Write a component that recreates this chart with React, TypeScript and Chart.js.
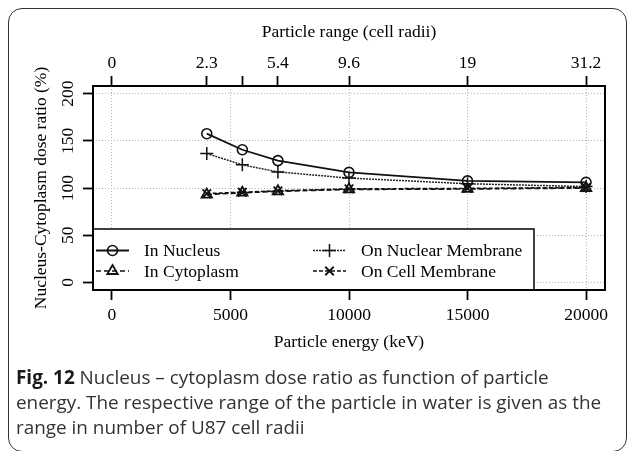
import React, { useEffect, useRef } from 'react';
import { Chart, registerables } from 'chart.js';

Chart.register(...registerables);

// ---- data ----
const energies = [4000, 5500, 7000, 10000, 15000, 20000];
const inNucleus = [157.5, 140.5, 129, 116.5, 107.5, 106];
const inCytoplasm = [93, 95, 96.5, 98.5, 99, 100];
const onNuclearMembrane = [136.5, 124.5, 117, 110.5, 104.5, 101.5];
const onCellMembrane = [94, 95.5, 97, 99, 99.5, 100.5];
const seriesLabels = ['In Nucleus', 'In Cytoplasm', 'On Nuclear Membrane', 'On Cell Membrane'];

const energyTicks = [0, 5000, 10000, 15000, 20000];
const ratioTicks = [0, 50, 100, 150, 200];
const rangeTickEnergies = [0, 4000, 5500, 7000, 10000, 15000, 20000];
const rangeTickLabels = ['0', '2.3', '', '5.4', '9.6', '19', '31.2'];

const SERIF = "'Liberation Serif', 'Times New Roman', serif";

function toPoints(ys: number[]) {
  return energies.map((x, i) => ({ x, y: ys[i] }));
}

function drawSymbol(ctx: CanvasRenderingContext2D, style: string, x: number, y: number, r: number) {
  ctx.beginPath();
  if (style === 'circle') {
    ctx.arc(x, y, r, 0, Math.PI * 2);
  } else if (style === 'triangle') {
    const s = Math.sin(Math.PI / 3) * r;
    const c = Math.cos(Math.PI / 3) * r;
    ctx.moveTo(x, y - r);
    ctx.lineTo(x + s, y + c);
    ctx.lineTo(x - s, y + c);
    ctx.closePath();
  } else if (style === 'cross') {
    ctx.moveTo(x - r, y);
    ctx.lineTo(x + r, y);
    ctx.moveTo(x, y - r);
    ctx.lineTo(x, y + r);
  } else if (style === 'crossRot') {
    const d = r * Math.SQRT1_2;
    ctx.moveTo(x - d, y - d);
    ctx.lineTo(x + d, y + d);
    ctx.moveTo(x - d, y + d);
    ctx.lineTo(x + d, y - d);
  }
  ctx.stroke();
}

const rLegendPlugin = {
  id: 'rLegend',
  afterDatasetsDraw(chart: any) {
    const { ctx, chartArea } = chart;
    const w = 441;
    const h = 61;
    const left = chartArea.left;
    const top = chartArea.bottom - h;
    ctx.save();
    ctx.fillStyle = '#fff';
    ctx.fillRect(left, top, w, h);
    ctx.strokeStyle = '#000';
    ctx.lineWidth = 1.5;
    ctx.strokeRect(left, top, w, h);
    const colX = [left + 3, left + 220];
    const rowY = [top + 21.5, top + 42];
    chart.data.datasets.forEach((ds: any, i: number) => {
      const col = Math.floor(i / 2);
      const row = i % 2;
      const x0 = colX[col];
      const y = rowY[row];
      ctx.strokeStyle = ds.borderColor;
      ctx.lineWidth = ds.borderWidth;
      ctx.setLineDash(ds.borderDash || []);
      ctx.beginPath();
      ctx.moveTo(x0, y);
      ctx.lineTo(x0 + 33, y);
      ctx.stroke();
      ctx.setLineDash([]);
      ctx.lineWidth = ds.pointBorderWidth;
      ctx.strokeStyle = ds.pointBorderColor;
      drawSymbol(ctx, ds.pointStyle, x0 + 16.5, y, ds.pointRadius);
      ctx.fillStyle = '#000';
      ctx.font = `17.5px ${SERIF}`;
      ctx.textAlign = 'left';
      ctx.textBaseline = 'middle';
      ctx.fillText(ds.label, x0 + 48, y + 1);
    });
    ctx.restore();
  },
  afterDraw(chart: any) {
    const { ctx, chartArea } = chart;
    ctx.save();
    ctx.strokeStyle = '#000';
    ctx.lineWidth = 2;
    ctx.strokeRect(chartArea.left, chartArea.top, chartArea.right - chartArea.left, chartArea.bottom - chartArea.top);
    ctx.restore();
  },
};

export default function App() {
  const canvasRef = useRef<HTMLCanvasElement | null>(null);

  useEffect(() => {
    if (!canvasRef.current) return;
    const tickFont = { family: SERIF, size: 17.5 };
    const titleFont = { family: SERIF, size: 17.5 };
    const chart = new Chart(canvasRef.current, {
      type: 'line',
      data: {
        datasets: [
          {
            label: seriesLabels[0],
            data: toPoints(inNucleus),
            borderColor: '#111',
            borderWidth: 1.8,
            borderDash: [],
            pointStyle: 'circle',
            pointRadius: 5,
            pointBorderWidth: 1.6,
            pointBorderColor: '#111',
            pointBackgroundColor: 'rgba(0,0,0,0)',
            fill: false,
            tension: 0,
          },
          {
            label: seriesLabels[1],
            data: toPoints(inCytoplasm),
            borderColor: '#111',
            borderWidth: 1.7,
            borderDash: [5, 3],
            pointStyle: 'triangle',
            pointRadius: 6,
            pointBorderWidth: 1.8,
            pointBorderColor: '#111',
            pointBackgroundColor: 'rgba(0,0,0,0)',
            fill: false,
            tension: 0,
          },
          {
            label: seriesLabels[2],
            data: toPoints(onNuclearMembrane),
            borderColor: '#222',
            borderWidth: 1.5,
            borderDash: [2, 1],
            pointStyle: 'cross',
            pointRadius: 6.5,
            pointBorderWidth: 1.5,
            pointBorderColor: '#111',
            pointBackgroundColor: 'rgba(0,0,0,0)',
            fill: false,
            tension: 0,
          },
          {
            label: seriesLabels[3],
            data: toPoints(onCellMembrane),
            borderColor: '#111',
            borderWidth: 1.7,
            borderDash: [4, 2],
            pointStyle: 'crossRot',
            pointRadius: 6,
            pointBorderWidth: 1.8,
            pointBorderColor: '#111',
            pointBackgroundColor: 'rgba(0,0,0,0)',
            fill: false,
            tension: 0,
          },
        ],
      },
      options: {
        responsive: false,
        animation: false,
        devicePixelRatio: 1,
        layout: { padding: { left: 0, right: 22, top: 0, bottom: 0 } },
        plugins: { legend: { display: false }, tooltip: { enabled: false } },
        scales: {
          x: {
            type: 'linear',
            position: 'bottom',
            min: -800,
            max: 20800,
            afterBuildTicks: (s: any) => {
              s.ticks = energyTicks.map((v) => ({ value: v }));
            },
            afterFit: (s: any) => {
              s.height = 161;
            },
            ticks: {
              font: tickFont,
              color: '#000',
              padding: 5,
              maxRotation: 0,
              autoSkip: false,
              callback: (v: any) => String(v),
            },
            grid: {
              color: '#b4b4b4',
              lineWidth: 1,
              drawTicks: true,
              tickLength: 10,
              tickColor: '#000',
              tickWidth: 1.8,
            },
            border: { display: false, dash: [1, 2] },
            title: {
              display: true,
              text: 'Particle energy (keV)',
              font: titleFont,
              color: '#000',
              padding: { top: 0, bottom: 98.5 },
            },
          },
          x2: {
            type: 'linear',
            position: 'top',
            min: -800,
            max: 20800,
            afterBuildTicks: (s: any) => {
              s.ticks = rangeTickEnergies.map((v) => ({ value: v }));
            },
            afterFit: (s: any) => {
              s.height = 86;
            },
            ticks: {
              font: tickFont,
              color: '#000',
              padding: 2.5,
              maxRotation: 0,
              autoSkip: false,
              callback: (_v: any, i: number) => rangeTickLabels[i],
            },
            grid: {
              drawOnChartArea: false,
              drawTicks: true,
              tickLength: 10,
              tickColor: '#000',
              tickWidth: 1.8,
            },
            border: { display: false },
            title: {
              display: true,
              text: 'Particle range (cell radii)',
              font: titleFont,
              color: '#000',
              padding: { top: 22, bottom: 0 },
            },
          },
          y: {
            type: 'linear',
            position: 'left',
            min: -8,
            max: 208,
            afterBuildTicks: (s: any) => {
              s.ticks = ratioTicks.map((v) => ({ value: v }));
            },
            afterFit: (s: any) => {
              s.width = 93;
            },
            ticks: {
              font: tickFont,
              color: '#000',
              padding: 1,
              minRotation: 90,
              maxRotation: 90,
              crossAlign: 'center',
              autoSkip: false,
              callback: (v: any) => String(v),
            },
            grid: {
              color: '#b4b4b4',
              lineWidth: 1,
              drawTicks: true,
              tickLength: 10,
              tickColor: '#000',
              tickWidth: 1.8,
            },
            border: { display: false, dash: [1, 2] },
            title: {
              display: true,
              text: 'Nucleus-Cytoplasm dose ratio (%)',
              font: titleFont,
              color: '#000',
              padding: { top: 30.5, bottom: 0 },
            },
          },
        },
      },
      plugins: [rLegendPlugin],
    } as any);
    return () => chart.destroy();
  }, []);

  return (
    <div
      style={{
        position: 'absolute',
        left: 0,
        top: 0,
        width: 627,
        height: 451,
        overflow: 'hidden',
        background: '#fff',
      }}
    >
      <canvas ref={canvasRef} width={627} height={451} style={{ display: 'block' }} />
      <div
        style={{
          position: 'absolute',
          left: 8,
          top: 8,
          width: 619,
          height: 444,
          boxSizing: 'border-box',
          border: '1.5px solid #333',
          borderRadius: 14,
          pointerEvents: 'none',
        }}
      />
      <div
        style={{
          position: 'absolute',
          left: 16,
          top: 365,
          fontFamily: "'Open Sans', 'Noto Sans', sans-serif",
          fontSize: 18.9,
          lineHeight: '25px',
          color: '#333',
          whiteSpace: 'nowrap',
        }}
      >
        <span style={{ fontWeight: 700, color: '#1a1a1a' }}>Fig. 12</span> Nucleus – cytoplasm dose ratio as function of particle
        <br />
        energy. The respective range of the particle in water is given as the
        <br />
        range in number of U87 cell radii
      </div>
    </div>
  );
}
